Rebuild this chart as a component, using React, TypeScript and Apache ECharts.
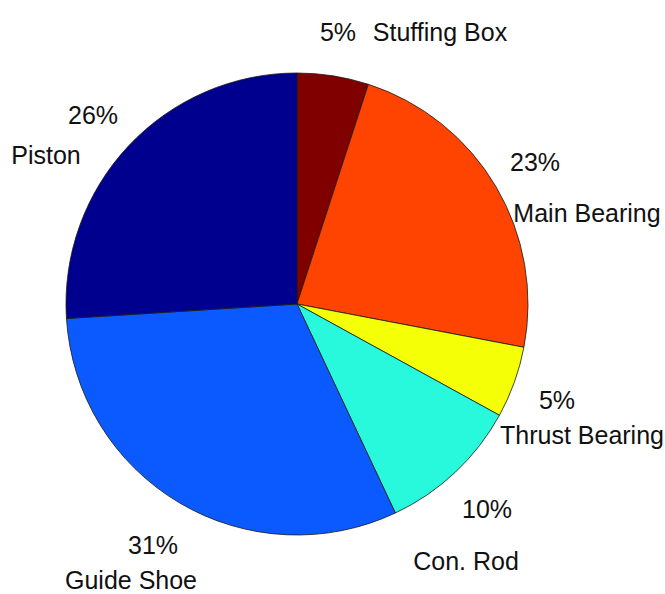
import React, { useEffect, useRef } from "react";
import * as echarts from "echarts";

const categories = ["Stuffing Box", "Main Bearing", "Thrust Bearing", "Con. Rod", "Guide Shoe", "Piston"];
const percents = [5, 23, 5, 10, 31, 26];
const colors = ["#800000", "#ff4300", "#f5ff05", "#28f8dc", "#0a5aff", "#00008e"];

// label anchor points (center of text), in pixels
const pctPos: [number, number][] = [
  [338, 32], [535, 162], [557, 400], [487, 509], [153, 545], [93, 115],
];
const namePos: [number, number][] = [
  [440, 32], [587, 213], [582, 435], [466, 561], [131, 580], [46, 155],
];

const FONT = "'Liberation Sans', Arial, sans-serif";

export default function App() {
  const ref = useRef<HTMLDivElement>(null);
  useEffect(() => {
    if (!ref.current) return;
    const chart = echarts.init(ref.current, null, { renderer: "svg" });
    const data = categories.map((name, i) => ({
      name,
      value: percents[i],
      itemStyle: { color: colors[i] },
    }));
    const baseSeries = {
      type: "pie" as const,
      center: [297, 304],
      radius: 231,
      startAngle: 90,
      clockwise: true,
      avoidLabelOverlap: false,
      labelLine: { show: false },
      emphasis: { disabled: true },
    };
    chart.setOption({
      animation: false,
      backgroundColor: "#ffffff",
      series: [
        {
          ...baseSeries,
          data,
          itemStyle: { borderColor: "#1a1a1a", borderWidth: 0.8 },
          label: {
            show: true,
            formatter: (p: any) => `${p.value}%`,
            fontFamily: FONT,
            fontSize: 25,
            color: "#111",
          },
          labelLayout: (p: any) => ({
            x: pctPos[p.dataIndex][0],
            y: pctPos[p.dataIndex][1],
            align: "center",
            verticalAlign: "middle",
          }),
        },
        {
          ...baseSeries,
          silent: true,
          data: categories.map((name, i) => ({
            name,
            value: percents[i],
            itemStyle: { color: "rgba(0,0,0,0)" },
          })),
          itemStyle: { borderWidth: 0 },
          label: {
            show: true,
            formatter: (p: any) => p.name,
            fontFamily: FONT,
            fontSize: 25,
            color: "#111",
          },
          labelLayout: (p: any) => ({
            x: namePos[p.dataIndex][0],
            y: namePos[p.dataIndex][1],
            align: "center",
            verticalAlign: "middle",
          }),
        },
      ],
    });
    return () => chart.dispose();
  }, []);
  return (
    <div
      ref={ref}
      style={{ position: "absolute", left: 0, top: 0, width: 665, height: 594 }}
    />
  );
}
